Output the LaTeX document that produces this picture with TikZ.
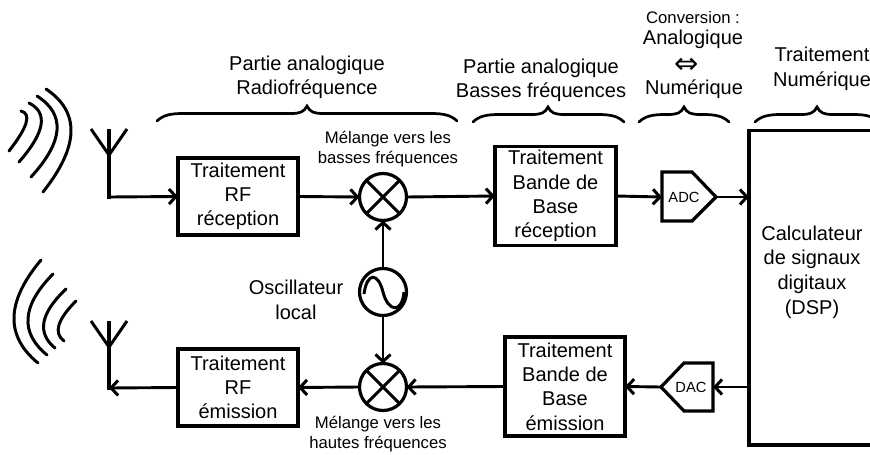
\documentclass[tikz,border=0pt]{standalone}
\usepackage{fontspec}
\setmainfont{Liberation Sans}
\newfontfamily\symfont{DejaVu Sans}
\usetikzlibrary{arrows.meta}
\tikzset{
  x=1pt,y=-1pt,
  every node/.style={outer sep=0pt},
  wire/.style={line width=2.9pt,-{Straight Barb[length=7pt,width=15pt,line width=3pt]}},
  plain/.style={line width=3.2pt},
  wave/.style={line width=3pt,line cap=round},
  bracehand/.style={line width=2.7pt,line cap=round},
  proc/.style={draw,line width=3.1pt,align=center,font=\fontsize{20}{24.3}\selectfont,inner sep=0pt},
  lab/.style={align=center,font=\fontsize{20}{24.6}\selectfont,inner sep=0pt},
  small/.style={align=center,font=\fontsize{16.7}{20}\selectfont,inner sep=0pt},
  disc/.style={draw,circle,line width=3.2pt,minimum size=47pt,inner sep=0pt},
  conv/.style={line width=3.2pt,line join=miter},
  convtext/.style={inner sep=0pt,font=\fontsize{14.7}{16}\selectfont}
}
\newcommand{\handbrace}[4]{% left x, right x, tip x, tip y
  \draw[bracehand] (#1,#4+15) .. controls (#1+6,#4+9) and (#1+14,#4+7.5) .. (#1+26,#4+7.5)
    -- (#3-16,#4+7.5) .. controls (#3-7,#4+7.5) and (#3-3,#4+6) .. (#3,#4)
    .. controls (#3+3,#4+6) and (#3+7,#4+7.5) .. (#3+16,#4+7.5)
    -- (#2-26,#4+7.5) .. controls (#2-14,#4+7.5) and (#2-6,#4+9) .. (#2,#4+15);}
\begin{document}
\begin{tikzpicture}
\useasboundingbox (0,0) rectangle (870,455);
% boxes
\node[proc,minimum width=120pt,minimum height=77pt] (rfrx) at (238,196.5) {Traitement\\RF\\réception};
\node[proc,minimum width=120pt,minimum height=77pt] (rftx) at (238,387.5) {Traitement\\RF\\émission};
\node[proc,minimum width=121pt,minimum height=99pt] (bbrx) at (555.5,196) {Traitement\\Bande de\\Base\\réception};
\node[proc,minimum width=120pt,minimum height=99pt] (bbtx) at (565,386.5) {Traitement\\Bande de\\Base\\émission};
% DSP
\draw[plain] (875,130.5) -- (749,130.5) -- (749,445) -- (875,445);
\coordinate (dspa) at (749,197);
\coordinate (dspb) at (749,387);
\node[lab] (dsptxt) at (812,272) {Calculateur\\de signaux\\digitaux\\(DSP)};
% mixers, oscillator
\node[disc] (mixa) at (383,197) {};
\node[disc] (mixb) at (383,387) {};
\node[disc] (osc) at (383,292) {};
\foreach \m in {mixa,mixb}{
  \draw[line width=3pt] (\m.45) -- (\m.225) (\m.135) -- (\m.315);
}
\draw[line width=3pt] (364,294) .. controls (367,272) and (378,272) .. (383,292)
  .. controls (388,312) and (402,314) .. (404,292);
% ADC / DAC
\draw[conv] (662,172) -- (692,172) -- (716,197) -- (692,221) -- (662,221) -- cycle;
\node[convtext] (adc) at (684,197) {ADC};
\coordinate (adcin) at (662,197);
\coordinate (adcout) at (716,197);
\draw[conv] (713,363) -- (684,363) -- (661,387) -- (684,411) -- (713,411) -- cycle;
\node[convtext] (dac) at (691,387) {DAC};
\coordinate (dacin) at (713,387);
\coordinate (dacout) at (661,387);
% antennas
\coordinate (antrx) at (109,197);
\coordinate (anttx) at (109,388);
\draw[plain] (109,129) -- (109,198.5);
\draw[line width=3pt] (91,129) -- (109,155) -- (127,129);
\draw[plain] (109,321) -- (109,390);
\draw[line width=3pt] (91,321) -- (109,347) -- (127,321);
% connectors
\draw[wire] (antrx) -- (rfrx.west);
\draw[wire] (rfrx.east) -- (mixa.west);
\draw[wire] (mixa.east) -- (bbrx.west);
\draw[wire] (bbrx.east) -- (adcin);
\draw[wire] (adcout) -- (dspa);
\draw[wire] (osc.north) -- (mixa.south);
\draw[wire] (osc.south) -- (mixb.north);
\draw[wire] (dspb) -- (dacin);
\draw[wire] (dacout) -- (bbtx.east);
\draw[wire] (bbtx.west) -- (mixb.east);
\draw[wire] (mixb.west) -- (rftx.east);
\draw[wire] (rftx.west) -- (anttx);
% waves rx
\draw[wave] (21,111) .. controls (31.7,113.7) and (27.7,127) .. (9,151);
\draw[wave] (29,103) .. controls (48.3,112.7) and (45,132.3) .. (19,162);
\draw[wave] (37,96) .. controls (65.7,114.3) and (63.7,141.3) .. (31,177);
\draw[wave] (46,89) .. controls (80.3,112) and (79.3,146.3) .. (43,192);
% waves tx
\draw[wave] (41,260) .. controls (6,301.7) and (5,336) .. (38,363);
\draw[wave] (53,274) .. controls (21.7,305.7) and (19.7,332.7) .. (47,355);
\draw[wave] (66,289) .. controls (40.3,313.3) and (36.7,333) .. (55,348);
\draw[wave] (76,301) .. controls (57.3,319.7) and (53.3,333) .. (64,341);
% braces
\handbrace{157}{457}{307}{106}
\handbrace{473}{624}{548}{107}
\handbrace{639}{729}{684}{107}
\handbrace{755}{879}{817}{107}
% labels
\node[lab] (t1) at (307,77.5) {Partie analogique\\Radiofréquence};
\node[lab] (t2) at (541,80.5) {Partie analogique\\Basses fréquences};
\node[small] (t3) at (693,18) {Conversion :};
\node[lab] (t4) at (693,39) {Analogique};
\node[inner sep=0pt,font=\symfont\fontsize{29}{29}\selectfont] (t5) at (687,65.5) {⇔};
\node[lab] (t6) at (694,89) {Numérique};
\node[lab] (t7) at (822,69) {Traitement\\Numérique};
\node[small] (t8) at (388,149) {Mélange vers les\\basses fréquences};
\node[small] (t9) at (378,434) {Mélange vers les\\hautes fréquences};
\node[lab] (t10) at (296,300) {Oscillateur\\local};
\end{tikzpicture}
\end{document}
